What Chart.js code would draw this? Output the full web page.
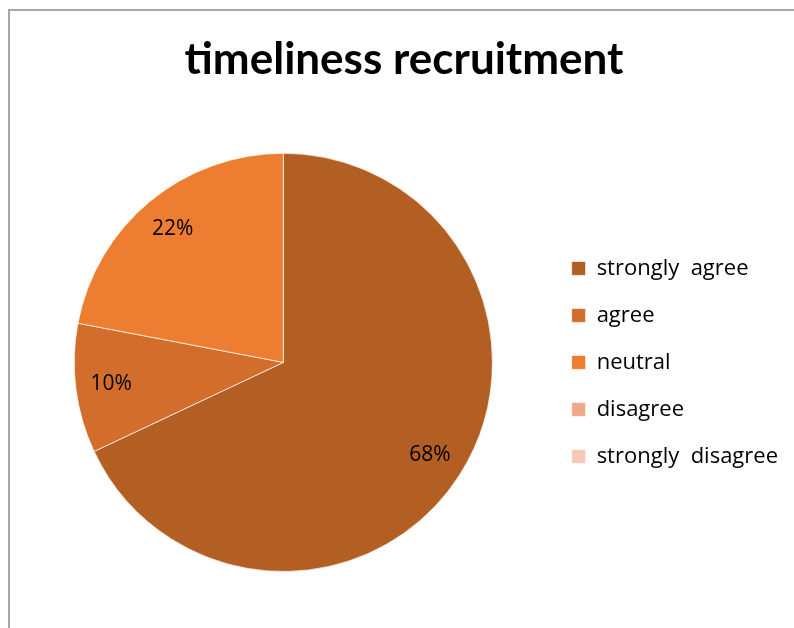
<!DOCTYPE html>
<html>
<head>
<meta charset="utf-8">
<script src="https://cdn.jsdelivr.net/npm/chart.js@4.4.1/dist/chart.umd.min.js"></script>
<style>
  html, body { margin: 0; padding: 0; background: #fff; }
  .frame {
    position: absolute; left: 8px; top: 9px; width: 786px; height: 619px;
    border-top: 2px solid #a6a6a6; border-left: 2px solid #a6a6a6;
  }
  #wrap { position: absolute; left: 0; top: 0; width: 794px; height: 628px; }
</style>
</head>
<body>
<div class="frame"></div>
<div id="wrap"><canvas id="pie" width="794" height="628"></canvas></div>
<script>
// svar på frågan om rekrytering i tid
const categories = ["strongly  agree", "agree", "neutral", "disagree", "strongly  disagree"];
const shares = [68, 10, 22, 0, 0];
const colors = ["#b35e22", "#d36d2b", "#ed7d31", "#f0a88a", "#f6c8b8"];

// procentetiketter inne i tårtbitarna
const sliceLabels = {
  id: "sliceLabels",
  afterDatasetsDraw(chart) {
    const ctx = chart.ctx;
    const meta = chart.getDatasetMeta(0);
    ctx.save();
    ctx.font = "21px 'Open Sans'";
    ctx.fillStyle = "#000";
    ctx.textAlign = "center";
    ctx.textBaseline = "middle";
    meta.data.forEach((arc, i) => {
      if (!shares[i]) return;
      const mid = (arc.startAngle + arc.endAngle) / 2;
      const r = arc.outerRadius * 0.83;
      ctx.fillText(shares[i] + "%", arc.x + Math.cos(mid) * r, arc.y + Math.sin(mid) * r);
    });
    ctx.restore();
  }
};

new Chart(document.getElementById("pie"), {
  type: "pie",
  data: {
    labels: categories,
    datasets: [{
      data: shares,
      backgroundColor: colors,
      borderColor: "rgba(255,255,255,0.7)",
      borderWidth: 1
    }]
  },
  options: {
    responsive: false,
    animation: false,
    layout: { padding: { left: 20, right: 6, top: 0, bottom: 56 } },
    plugins: {
      title: {
        display: true,
        text: "timeliness recruitment",
        color: "#000",
        font: { family: "Lato", size: 44, weight: "bold", lineHeight: 1.2 },
        padding: { top: 33, bottom: 67 }
      },
      legend: {
        position: "right",
        fullSize: false,
        labels: {
          boxWidth: 14,
          boxHeight: 14,
          padding: 25,
          color: "#000",
          font: { family: "Open Sans", size: 22 }
        }
      },
      tooltip: { enabled: false }
    }
  },
  plugins: [sliceLabels]
});
</script>
</body>
</html>
